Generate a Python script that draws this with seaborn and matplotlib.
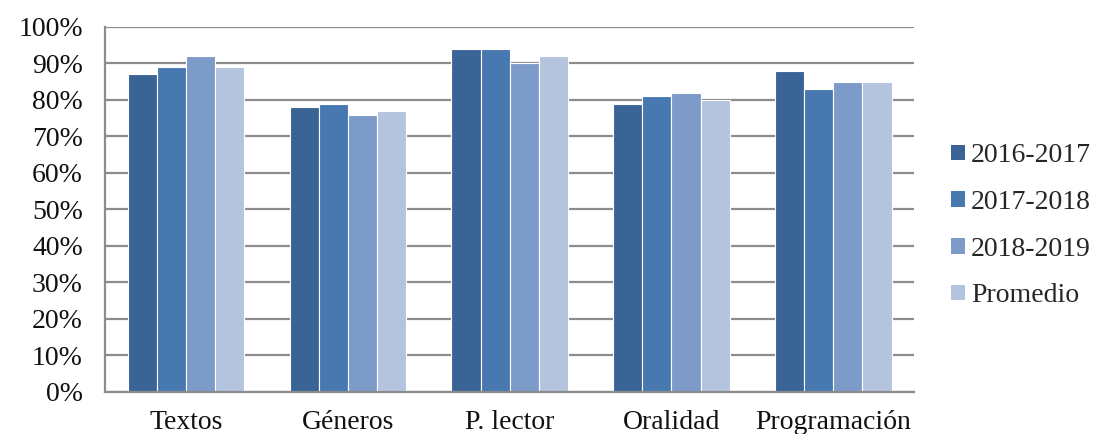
import matplotlib
matplotlib.use("Agg")
import matplotlib.pyplot as plt
import seaborn as sns
import pandas as pd
import numpy as np
from matplotlib.ticker import FixedLocator, NullFormatter

categories = ["Textos", "Géneros", "P. lector", "Oralidad", "Programación"]
series_names = ["2016-2017", "2017-2018", "2018-2019", "Promedio"]
v_2016_2017 = [87, 78, 94, 79, 88]
v_2017_2018 = [89, 79, 94, 81, 83]
v_2018_2019 = [92, 76, 90, 82, 85]
v_promedio = [89, 77, 92, 80, 85]
y_ticks = [0, 10, 20, 30, 40, 50, 60, 70, 80, 90, 100]
y_labels = [f"{t}%" for t in y_ticks]

colors = ["#3B6496", "#4878B0", "#7D9BC8", "#B4C4DF"]

rows = []
for name, vals in zip(series_names, [v_2016_2017, v_2017_2018, v_2018_2019, v_promedio]):
    for cat, v in zip(categories, vals):
        rows.append({"Categoría": cat, "Serie": name, "Valor": v})
df = pd.DataFrame(rows)

sns.set_theme(style="white")
plt.rcParams["font.family"] = ["Liberation Serif", "DejaVu Serif"]

fig = plt.figure(figsize=(11.01, 4.34), dpi=100)
ax = fig.add_axes([0.0954, 0.0968, 0.735, 0.841])

grid_color = "#8C8C8C"
for t in y_ticks:
    ax.axhline(t, color=grid_color, lw=1.6, zorder=0)

sns.barplot(data=df, x="Categoría", y="Valor", hue="Serie", order=categories,
            hue_order=series_names, palette=colors, width=0.72, ax=ax,
            edgecolor="white", linewidth=0.8, saturation=1, zorder=2)

ax.set_xlim(-0.5, len(categories) - 0.5)
ax.set_ylim(0, 100)
ax.set_yticks(y_ticks)
ax.set_yticklabels(y_labels, fontsize=20, color="#111111")
ax.set_xlabel("")
ax.set_ylabel("")

# category labels centered, tick marks at boundaries
ax.set_xticks(range(len(categories)))
ax.set_xticklabels(categories, fontsize=20, color="#111111")
ax.tick_params(axis="x", length=0, pad=13)
ax.xaxis.set_minor_locator(FixedLocator(np.arange(-0.5, len(categories), 1.0)))
ax.xaxis.set_minor_formatter(NullFormatter())
ax.tick_params(axis="x", which="minor", length=7, width=1.6, color=grid_color, direction="out")
ax.tick_params(axis="y", length=6, width=1.6, color=grid_color, direction="out", pad=10)

for s in ["top", "right"]:
    ax.spines[s].set_visible(False)
for s in ["left", "bottom"]:
    ax.spines[s].set_color(grid_color)
    ax.spines[s].set_linewidth(1.6)

leg = ax.legend(loc="center left", bbox_to_anchor=(1.046, 0.455), frameon=False,
                fontsize=20, handlelength=0.5, handleheight=0.5,
                handletextpad=0.2, labelspacing=0.78, borderpad=0, borderaxespad=0)
for h in leg.legend_handles:
    h.set_edgecolor("none")

fig.savefig("out.png", dpi=100)
